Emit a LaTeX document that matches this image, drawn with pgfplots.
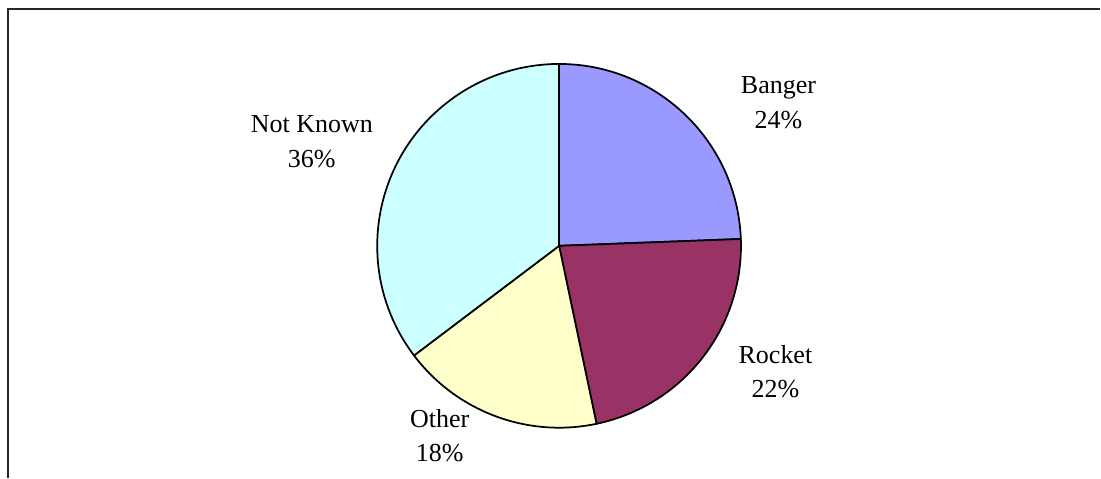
\documentclass[border=0pt]{standalone}
\usepackage{pgfplots}
\pgfplotsset{compat=1.18}
\usepackage{pgfplotstable}
\usepackage{fontspec}
\setmainfont{Liberation Serif}

\definecolor{cBanger}{HTML}{9999FF}
\definecolor{cRocket}{HTML}{993366}
\definecolor{cOther}{HTML}{FFFFCC}
\definecolor{cNotKnown}{HTML}{CCFFFF}

% share of each slice, in per cent
\pgfplotstableread{
label value
Banger 24.4
Rocket 22.3
Other 18.0
NotKnown 35.3
}\piedata

\pgfplotstablegetelem{0}{value}\of\piedata \let\vA\pgfplotsretval
\pgfplotstablegetelem{1}{value}\of\piedata \let\vB\pgfplotsretval
\pgfplotstablegetelem{2}{value}\of\piedata \let\vC\pgfplotsretval
\pgfplotstablegetelem{3}{value}\of\piedata \let\vD\pgfplotsretval
\pgfmathsetmacro\aO{90}
\pgfmathsetmacro\aA{\aO-3.6*\vA}
\pgfmathsetmacro\aB{\aA-3.6*\vB}
\pgfmathsetmacro\aC{\aB-3.6*\vC}
\pgfmathsetmacro\aD{\aC-3.6*\vD}

\begin{document}
\begin{tikzpicture}
\begin{axis}[
  x=0.75pt, y=0.75pt,
  xmin=0, xmax=1101, ymin=0, ymax=478,
  hide axis, clip=false,
  scale only axis,
]
\path (axis cs:0,0) rectangle (axis cs:1101,478);
% outer frame (cropped on the right and at the bottom)
\draw[black!85, line width=1.2pt] (axis cs:8,0) -- (axis cs:8,469) -- (axis cs:1101,469);
% pie slices
\def\R{136.5pt}
\filldraw[fill=cBanger, draw=black, line width=1.3pt, line join=round]
  (axis cs:559.5,232) -- ++(\aO:\R) arc[start angle=\aO, end angle=\aA, radius=\R] -- cycle;
\filldraw[fill=cRocket, draw=black, line width=1.3pt, line join=round]
  (axis cs:559.5,232) -- ++(\aA:\R) arc[start angle=\aA, end angle=\aB, radius=\R] -- cycle;
\filldraw[fill=cOther, draw=black, line width=1.3pt, line join=round]
  (axis cs:559.5,232) -- ++(\aB:\R) arc[start angle=\aB, end angle=\aC, radius=\R] -- cycle;
\filldraw[fill=cNotKnown, draw=black, line width=1.3pt, line join=round]
  (axis cs:559.5,232) -- ++(\aC:\R) arc[start angle=\aC, end angle=\aD, radius=\R] -- cycle;
% labels
\tikzset{lbl/.style={align=center, inner sep=0pt, font=\fontsize{19.5}{26}\selectfont}}
\node[lbl] at (axis cs:779,375) {Banger\\24\%};
\node[lbl] at (axis cs:776,106) {Rocket\\22\%};
\node[lbl] at (axis cs:440,42) {Other\\18\%};
\node[lbl] at (axis cs:312,336) {Not Known\\36\%};
\end{axis}
\end{tikzpicture}
\end{document}
